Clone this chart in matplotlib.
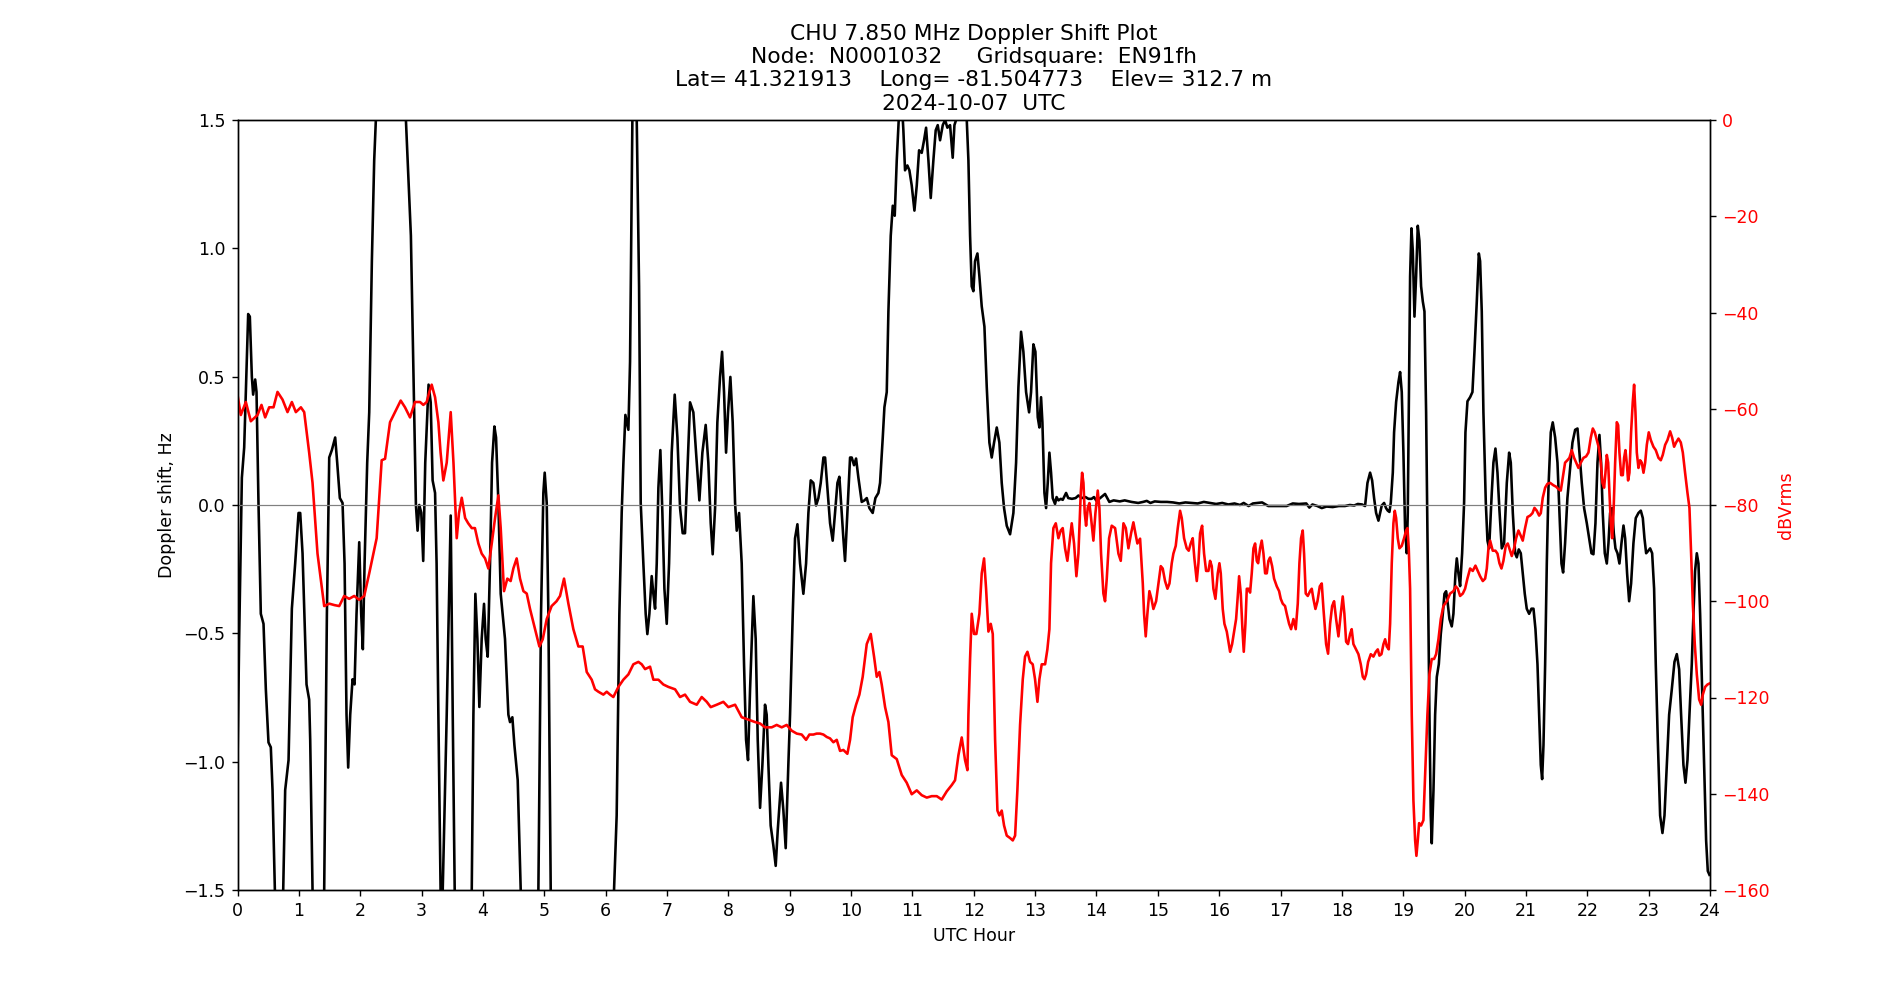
import matplotlib
matplotlib.use("Agg")
import matplotlib.pyplot as plt

title_lines = [
    "CHU 7.850 MHz Doppler Shift Plot",
    "Node:  N0001032     Gridsquare:  EN91fh",
    "Lat= 41.321913    Long= -81.504773    Elev= 312.7 m",
    "2024-10-07  UTC",
]
x_ticks = list(range(25))

# Doppler shift (black), hours / Hz
doppler_hours = [
    0.0, 0.027, 0.071, 0.109, 0.136, 0.174, 0.201, 0.234, 0.255, 0.288, 0.31, 0.342, 0.38, 0.424, 0.462,
    0.505, 0.543, 0.571, 0.609, 0.68, 0.745, 0.777, 0.832, 0.886, 0.94, 0.995, 1.022, 1.06, 1.125, 1.168,
    1.185, 1.223, 1.32, 1.413, 1.457, 1.495, 1.538, 1.592, 1.625, 1.668, 1.712, 1.745, 1.777, 1.804, 1.837,
    1.875, 1.908, 1.94, 1.984, 2.016, 2.043, 2.071, 2.114, 2.147, 2.19, 2.228, 2.255, 2.5, 2.745, 2.826,
    2.88, 2.908, 2.935, 2.962, 2.995, 3.027, 3.06, 3.114, 3.149, 3.18, 3.22, 3.245, 3.274, 3.31, 3.33,
    3.345, 3.41, 3.475, 3.508, 3.54, 3.68, 3.818, 3.845, 3.877, 3.91, 3.942, 3.98, 4.018, 4.045, 4.078,
    4.116, 4.149, 4.187, 4.214, 4.252, 4.29, 4.36, 4.415, 4.442, 4.48, 4.513, 4.567, 4.616, 4.75, 4.904,
    4.947, 4.985, 5.007, 5.04, 5.067, 5.105, 5.6, 6.137, 6.18, 6.224, 6.262, 6.29, 6.322, 6.371, 6.398,
    6.436, 6.47, 6.507, 6.545, 6.572, 6.615, 6.653, 6.68, 6.713, 6.751, 6.778, 6.806, 6.833, 6.86, 6.892,
    6.925, 6.958, 6.996, 7.034, 7.077, 7.126, 7.17, 7.213, 7.256, 7.294, 7.332, 7.376, 7.43, 7.474, 7.528,
    7.577, 7.631, 7.674, 7.713, 7.745, 7.784, 7.821, 7.865, 7.898, 7.93, 7.963, 7.995, 8.033, 8.071, 8.11,
    8.137, 8.175, 8.218, 8.256, 8.289, 8.321, 8.354, 8.408, 8.446, 8.479, 8.517, 8.555, 8.598, 8.625, 8.653,
    8.69, 8.734, 8.772, 8.805, 8.859, 8.897, 8.935, 8.978, 9.006, 9.05, 9.087, 9.126, 9.169, 9.223, 9.267,
    9.305, 9.343, 9.386, 9.43, 9.468, 9.506, 9.55, 9.577, 9.615, 9.658, 9.701, 9.739, 9.778, 9.81, 9.848,
    9.875, 9.902, 9.94, 9.984, 10.011, 10.049, 10.082, 10.12, 10.174, 10.218, 10.256, 10.299, 10.353, 10.397, 10.446,
    10.473, 10.517, 10.544, 10.582, 10.609, 10.647, 10.68, 10.712, 10.745, 10.777, 10.81, 10.853, 10.88, 10.918, 10.951,
    10.989, 11.033, 11.071, 11.109, 11.152, 11.19, 11.223, 11.261, 11.299, 11.342, 11.38, 11.413, 11.451, 11.495, 11.533,
    11.57, 11.614, 11.657, 11.685, 11.712, 11.8, 11.886, 11.913, 11.94, 11.967, 11.994, 12.021, 12.06, 12.092, 12.13,
    12.174, 12.212, 12.255, 12.293, 12.331, 12.375, 12.418, 12.456, 12.494, 12.538, 12.592, 12.646, 12.69, 12.728, 12.771,
    12.809, 12.853, 12.902, 12.934, 12.972, 13.005, 13.043, 13.07, 13.097, 13.119, 13.152, 13.179, 13.206, 13.233, 13.26,
    13.287, 13.325, 13.35, 13.38, 13.42, 13.45, 13.505, 13.54, 13.6, 13.66, 13.706, 13.76, 13.82, 13.87, 13.92,
    13.96, 14.0, 14.06, 14.14, 14.21, 14.28, 14.38, 14.46, 14.57, 14.68, 14.76, 14.82, 14.88, 14.95, 15.05,
    15.15, 15.25, 15.35, 15.45, 15.55, 15.65, 15.75, 15.85, 15.95, 16.05, 16.15, 16.25, 16.34, 16.4, 16.48,
    16.55, 16.7, 16.8, 16.9, 17.0, 17.1, 17.2, 17.3, 17.42, 17.47, 17.52, 17.6, 17.672, 17.75, 17.85,
    17.95, 18.05, 18.13, 18.2, 18.26, 18.33, 18.378, 18.417, 18.46, 18.493, 18.525, 18.558, 18.596, 18.623, 18.65,
    18.688, 18.72, 18.748, 18.775, 18.797, 18.83, 18.851, 18.884, 18.922, 18.949, 18.976, 19.003, 19.03, 19.058, 19.074,
    19.09, 19.112, 19.134, 19.156, 19.183, 19.21, 19.237, 19.264, 19.291, 19.319, 19.346, 19.373, 19.4, 19.427, 19.449,
    19.465, 19.493, 19.52, 19.547, 19.58, 19.612, 19.645, 19.672, 19.699, 19.726, 19.753, 19.791, 19.818, 19.851, 19.873,
    19.9, 19.927, 19.96, 19.992, 20.014, 20.047, 20.09, 20.128, 20.161, 20.199, 20.232, 20.253, 20.28, 20.307, 20.346,
    20.373, 20.4, 20.427, 20.443, 20.47, 20.503, 20.536, 20.568, 20.606, 20.644, 20.688, 20.726, 20.753, 20.786, 20.824,
    20.851, 20.883, 20.916, 20.949, 20.981, 21.013, 21.052, 21.09, 21.123, 21.155, 21.188, 21.215, 21.242, 21.264, 21.286,
    21.313, 21.34, 21.367, 21.405, 21.437, 21.476, 21.514, 21.546, 21.579, 21.606, 21.638, 21.676, 21.72, 21.758, 21.802,
    21.84, 21.872, 21.91, 21.948, 21.992, 22.03, 22.068, 22.1, 22.133, 22.166, 22.198, 22.225, 22.252, 22.285, 22.318,
    22.345, 22.372, 22.405, 22.432, 22.459, 22.492, 22.524, 22.557, 22.59, 22.617, 22.649, 22.682, 22.714, 22.752, 22.79,
    22.834, 22.872, 22.905, 22.932, 22.959, 22.992, 23.024, 23.057, 23.089, 23.116, 23.149, 23.187, 23.225, 23.258, 23.296,
    23.334, 23.377, 23.421, 23.459, 23.497, 23.529, 23.567, 23.6, 23.633, 23.665, 23.703, 23.73, 23.757, 23.785, 23.812,
    23.839, 23.872, 23.905, 23.937, 23.964, 23.991,
]
doppler_hz = [
    -1.01, -0.52, 0.106, 0.224, 0.44, 0.744, 0.734, 0.499, 0.43, 0.489, 0.44, 0.008, -0.424, -0.463, -0.719,
    -0.925, -0.944, -1.111, -1.5, -2.0, -1.5, -1.111, -0.994, -0.404, -0.228, -0.031, -0.031, -0.188, -0.699, -0.758,
    -0.915, -1.5, -2.0, -1.5, -0.424, 0.185, 0.214, 0.263, 0.165, 0.027, 0.008, -0.228, -0.817, -1.023, -0.817,
    -0.679, -0.699, -0.424, -0.145, -0.424, -0.562, -0.228, 0.165, 0.361, 0.95, 1.343, 1.5, 2.3, 1.5, 1.049,
    0.361, 0.0, -0.1, 0.0, -0.03, -0.218, 0.165, 0.469, 0.4, 0.096, 0.047, -0.228, -0.817, -1.5, -1.8,
    -1.5, -0.817, -0.041, -0.817, -1.5, -2.2, -1.5, -0.817, -0.346, -0.522, -0.787, -0.522, -0.385, -0.522, -0.591,
    -0.228, 0.165, 0.306, 0.263, 0.008, -0.346, -0.522, -0.817, -0.846, -0.827, -0.935, -1.072, -1.5, -2.2, -1.5,
    -0.424, 0.047, 0.126, 0.008, -0.424, -1.5, -2.5, -1.5, -1.21, -0.424, -0.03, 0.165, 0.351, 0.293, 0.558,
    1.5, 1.9, 1.5, 0.852, 0.008, -0.228, -0.424, -0.503, -0.424, -0.277, -0.346, -0.404, -0.228, 0.067, 0.214,
    -0.031, -0.326, -0.463, -0.228, 0.204, 0.43, 0.263, -0.012, -0.11, -0.11, 0.126, 0.4, 0.361, 0.204, 0.018,
    0.204, 0.312, 0.165, -0.071, -0.192, -0.012, 0.322, 0.499, 0.597, 0.439, 0.204, 0.361, 0.499, 0.322, 0.008,
    -0.1, -0.031, -0.228, -0.62, -0.915, -0.994, -0.719, -0.355, -0.522, -0.915, -1.18, -1.013, -0.778, -0.817, -1.013,
    -1.249, -1.327, -1.406, -1.268, -1.082, -1.189, -1.337, -1.013, -0.817, -0.424, -0.13, -0.075, -0.228, -0.346, -0.228,
    -0.031, 0.096, 0.086, -0.002, 0.027, 0.086, 0.185, 0.185, 0.067, -0.071, -0.139, -0.031, 0.086, 0.11, -0.031,
    -0.13, -0.218, -0.031, 0.185, 0.185, 0.155, 0.181, 0.106, 0.012, 0.018, 0.027, -0.012, -0.031, 0.027, 0.047,
    0.086, 0.263, 0.381, 0.44, 0.754, 1.049, 1.166, 1.127, 1.343, 1.5, 1.65, 1.46, 1.304, 1.323, 1.304,
    1.245, 1.147, 1.245, 1.382, 1.372, 1.421, 1.47, 1.343, 1.196, 1.343, 1.46, 1.48, 1.421, 1.48, 1.5,
    1.47, 1.48, 1.353, 1.48, 1.5, 1.7, 1.5, 1.343, 1.049, 0.852, 0.833, 0.95, 0.98, 0.891, 0.774,
    0.695, 0.459, 0.243, 0.185, 0.243, 0.302, 0.243, 0.086, -0.012, -0.081, -0.114, -0.031, 0.165, 0.459, 0.675,
    0.597, 0.44, 0.361, 0.44, 0.626, 0.597, 0.342, 0.302, 0.42, 0.322, 0.047, -0.012, 0.086, 0.204, 0.126,
    0.027, 0.004, 0.031, 0.018, 0.024, 0.02, 0.047, 0.027, 0.024, 0.027, 0.037, 0.027, 0.031, 0.024, 0.024,
    0.031, 0.016, 0.027, 0.043, 0.012, 0.018, 0.014, 0.018, 0.012, 0.008, 0.012, 0.016, 0.008, 0.014, 0.012,
    0.012, 0.01, 0.006, 0.01, 0.008, 0.006, 0.012, 0.008, 0.004, 0.008, 0.002, 0.006, 0.0, 0.008, -0.004,
    0.006, 0.01, -0.004, -0.004, -0.004, -0.004, 0.006, 0.004, 0.006, -0.01, 0.002, -0.004, -0.012, -0.006, -0.008,
    -0.004, -0.004, 0.0, -0.002, 0.004, 0.002, -0.004, 0.086, 0.126, 0.096, 0.027, -0.031, -0.061, -0.031, -0.002,
    0.008, -0.012, -0.022, -0.027, 0.008, 0.126, 0.283, 0.401, 0.479, 0.518, 0.44, 0.204, -0.09, -0.188, -0.031,
    0.361, 0.891, 1.078, 0.99, 0.734, 0.891, 1.088, 1.029, 0.852, 0.793, 0.754, 0.361, -0.228, -0.817, -1.21,
    -1.318, -1.111, -0.817, -0.67, -0.62, -0.503, -0.424, -0.346, -0.336, -0.385, -0.444, -0.473, -0.424, -0.267, -0.208,
    -0.267, -0.316, -0.188, 0.008, 0.283, 0.404, 0.42, 0.44, 0.597, 0.793, 0.98, 0.95, 0.754, 0.361, 0.008,
    -0.139, -0.169, -0.031, 0.047, 0.165, 0.22, 0.126, -0.02, -0.169, -0.149, 0.086, 0.204, 0.165, -0.031, -0.188,
    -0.204, -0.173, -0.188, -0.267, -0.346, -0.404, -0.424, -0.404, -0.404, -0.483, -0.62, -0.817, -1.013, -1.068, -0.935,
    -0.62, -0.228, 0.067, 0.283, 0.322, 0.263, 0.165, -0.031, -0.228, -0.263, -0.149, 0.027, 0.145, 0.243, 0.293,
    0.298, 0.204, 0.086, -0.012, -0.071, -0.13, -0.188, -0.192, -0.071, 0.165, 0.273, 0.165, -0.031, -0.188, -0.228,
    -0.149, -0.031, -0.012, -0.11, -0.169, -0.188, -0.228, -0.149, -0.08, -0.13, -0.267, -0.375, -0.306, -0.149, -0.051,
    -0.031, -0.022, -0.051, -0.13, -0.188, -0.179, -0.169, -0.188, -0.326, -0.62, -0.915, -1.21, -1.278, -1.21, -1.013,
    -0.817, -0.719, -0.611, -0.581, -0.64, -0.817, -1.013, -1.082, -0.994, -0.817, -0.62, -0.424, -0.257, -0.188, -0.228,
    -0.424, -0.719, -1.013, -1.308, -1.426, -1.441,
]

# Signal level (red), hours / dBVrms
level_hours = [
    0.0, 0.054, 0.136, 0.217, 0.326, 0.391, 0.451, 0.516, 0.587, 0.652, 0.734, 0.815, 0.886, 0.951, 1.033,
    1.087, 1.168, 1.223, 1.304, 1.413, 1.495, 1.58, 1.658, 1.739, 1.82, 1.902, 1.984, 2.065, 2.147, 2.268,
    2.35, 2.405, 2.486, 2.567, 2.66, 2.73, 2.812, 2.893, 2.975, 3.029, 3.084, 3.127, 3.165, 3.22, 3.274,
    3.31, 3.355, 3.41, 3.475, 3.52, 3.573, 3.61, 3.655, 3.71, 3.76, 3.818, 3.87, 3.926, 3.98, 4.035,
    4.089, 4.144, 4.198, 4.252, 4.29, 4.344, 4.398, 4.452, 4.496, 4.55, 4.605, 4.66, 4.714, 4.768, 4.85,
    4.92, 4.975, 5.04, 5.12, 5.2, 5.257, 5.322, 5.393, 5.474, 5.556, 5.626, 5.692, 5.773, 5.827, 5.882,
    5.963, 6.018, 6.072, 6.126, 6.208, 6.289, 6.371, 6.452, 6.534, 6.588, 6.643, 6.724, 6.778, 6.86, 6.941,
    7.023, 7.132, 7.213, 7.294, 7.376, 7.485, 7.566, 7.648, 7.713, 7.811, 7.919, 8.0, 8.11, 8.218, 8.327,
    8.435, 8.517, 8.598, 8.707, 8.788, 8.87, 8.951, 9.033, 9.115, 9.196, 9.267, 9.321, 9.386, 9.44, 9.495,
    9.55, 9.604, 9.658, 9.712, 9.767, 9.821, 9.875, 9.94, 9.984, 10.027, 10.082, 10.136, 10.19, 10.256, 10.321,
    10.375, 10.419, 10.462, 10.5, 10.555, 10.609, 10.663, 10.745, 10.826, 10.907, 10.989, 11.071, 11.152, 11.234, 11.315,
    11.397, 11.478, 11.56, 11.641, 11.695, 11.75, 11.804, 11.858, 11.897, 11.913, 11.94, 11.967, 12.005, 12.043, 12.092,
    12.13, 12.168, 12.201, 12.239, 12.277, 12.31, 12.348, 12.386, 12.418, 12.456, 12.494, 12.538, 12.592, 12.636, 12.674,
    12.711, 12.755, 12.799, 12.836, 12.875, 12.918, 12.961, 12.999, 13.038, 13.07, 13.108, 13.163, 13.2, 13.233, 13.26,
    13.298, 13.337, 13.38, 13.418, 13.45, 13.488, 13.526, 13.559, 13.597, 13.635, 13.673, 13.706, 13.744, 13.766, 13.788,
    13.809, 13.831, 13.858, 13.885, 13.912, 13.95, 13.983, 14.021, 14.048, 14.075, 14.113, 14.14, 14.168, 14.206, 14.249,
    14.304, 14.358, 14.396, 14.44, 14.478, 14.521, 14.564, 14.602, 14.635, 14.667, 14.711, 14.755, 14.776, 14.803, 14.83,
    14.863, 14.896, 14.928, 14.972, 15.01, 15.048, 15.08, 15.118, 15.157, 15.19, 15.227, 15.254, 15.292, 15.325, 15.363,
    15.39, 15.428, 15.471, 15.504, 15.536, 15.569, 15.596, 15.635, 15.662, 15.689, 15.722, 15.754, 15.787, 15.825, 15.852,
    15.879, 15.906, 15.939, 15.977, 16.004, 16.026, 16.058, 16.086, 16.124, 16.151, 16.178, 16.211, 16.243, 16.276, 16.303,
    16.325, 16.352, 16.379, 16.401, 16.428, 16.45, 16.477, 16.504, 16.531, 16.559, 16.586, 16.613, 16.635, 16.667, 16.694,
    16.722, 16.749, 16.776, 16.803, 16.83, 16.863, 16.895, 16.939, 16.977, 17.004, 17.036, 17.074, 17.101, 17.14, 17.172,
    17.21, 17.248, 17.281, 17.308, 17.335, 17.362, 17.384, 17.411, 17.444, 17.482, 17.509, 17.536, 17.569, 17.602, 17.64,
    17.672, 17.7, 17.743, 17.775, 17.808, 17.841, 17.873, 17.906, 17.944, 17.982, 18.014, 18.041, 18.069, 18.1, 18.134,
    18.16, 18.188, 18.232, 18.27, 18.308, 18.341, 18.368, 18.395, 18.428, 18.471, 18.514, 18.553, 18.585, 18.612, 18.645,
    18.678, 18.705, 18.732, 18.764, 18.786, 18.813, 18.84, 18.862, 18.884, 18.911, 18.938, 18.976, 19.014, 19.047, 19.069,
    19.09, 19.112, 19.139, 19.166, 19.194, 19.215, 19.237, 19.259, 19.291, 19.329, 19.357, 19.394, 19.427, 19.465, 19.503,
    19.536, 19.574, 19.612, 19.655, 19.71, 19.764, 19.818, 19.856, 19.889, 19.927, 19.971, 20.008, 20.046, 20.09, 20.133,
    20.177, 20.215, 20.253, 20.297, 20.335, 20.362, 20.389, 20.416, 20.459, 20.503, 20.536, 20.568, 20.601, 20.633, 20.671,
    20.704, 20.742, 20.769, 20.807, 20.84, 20.878, 20.916, 20.948, 20.986, 21.025, 21.068, 21.106, 21.139, 21.177, 21.215,
    21.242, 21.274, 21.313, 21.35, 21.394, 21.448, 21.492, 21.53, 21.568, 21.6, 21.638, 21.676, 21.709, 21.747, 21.785,
    21.818, 21.856, 21.894, 21.938, 21.981, 22.019, 22.057, 22.09, 22.122, 22.155, 22.188, 22.22, 22.247, 22.274, 22.296,
    22.318, 22.34, 22.361, 22.383, 22.405, 22.427, 22.454, 22.481, 22.503, 22.524, 22.552, 22.579, 22.6, 22.622, 22.643,
    22.665, 22.687, 22.714, 22.741, 22.763, 22.785, 22.807, 22.834, 22.861, 22.888, 22.916, 22.943, 22.97, 23.002, 23.035,
    23.078, 23.116, 23.16, 23.198, 23.23, 23.269, 23.307, 23.35, 23.383, 23.415, 23.448, 23.486, 23.524, 23.557, 23.594,
    23.633, 23.665, 23.692, 23.72, 23.752, 23.785, 23.823, 23.856, 23.883, 23.921, 23.959, 23.991,
]
level_db = [
    -57.1, -61.3, -58.6, -62.6, -61.3, -59.2, -61.8, -59.7, -59.7, -56.5, -58.1, -60.7, -58.6, -60.7, -59.7,
    -60.7, -69.1, -75.4, -90.1, -101.0, -100.5, -100.8, -101.0, -98.9, -99.5, -98.9, -99.7, -98.9, -94.2, -86.9,
    -70.7, -70.4, -62.8, -60.7, -58.3, -59.7, -61.8, -58.6, -58.6, -59.2, -58.6, -56.5, -55.0, -57.6, -62.8,
    -69.1, -74.9, -71.2, -60.7, -71.2, -86.9, -81.7, -78.5, -82.7, -83.8, -84.8, -84.8, -88.0, -90.1, -91.1,
    -93.2, -88.0, -82.7, -78.0, -84.8, -97.9, -95.3, -95.8, -93.2, -91.1, -95.3, -97.9, -98.4, -101.6, -105.8,
    -109.4, -107.9, -103.7, -101.0, -100.0, -98.9, -95.3, -100.5, -105.8, -109.4, -109.4, -114.7, -116.3, -118.3, -118.8,
    -119.4, -118.8, -119.4, -119.9, -117.8, -116.3, -115.2, -113.1, -112.6, -113.1, -114.1, -113.6, -116.3, -116.3, -117.3,
    -117.8, -118.3, -119.9, -119.4, -120.9, -121.5, -119.9, -120.9, -122.0, -121.5, -120.9, -122.0, -121.5, -124.1, -124.6,
    -125.1, -125.4, -126.2, -126.2, -125.7, -126.2, -125.7, -126.9, -127.5, -127.7, -128.8, -127.7, -127.7, -127.5, -127.5,
    -127.7, -128.2, -128.5, -129.3, -128.8, -131.1, -130.9, -131.7, -128.8, -124.1, -121.5, -119.4, -115.7, -108.9, -106.8,
    -111.5, -115.7, -114.7, -117.3, -122.0, -125.1, -132.0, -132.8, -136.1, -137.7, -140.1, -139.3, -140.3, -140.8, -140.5,
    -140.5, -141.2, -139.5, -138.2, -137.2, -132.0, -128.3, -133.0, -135.1, -123.6, -112.0, -102.6, -106.8, -106.8, -102.6,
    -94.2, -91.1, -97.4, -106.3, -104.7, -106.8, -128.8, -143.5, -144.5, -143.5, -146.6, -148.7, -149.2, -149.7, -148.7,
    -139.3, -125.7, -116.2, -111.5, -110.5, -112.6, -113.1, -116.2, -120.9, -116.2, -113.1, -113.1, -110.0, -105.8, -92.1,
    -84.8, -83.8, -86.9, -85.3, -84.8, -89.0, -91.6, -88.0, -83.8, -88.0, -94.8, -90.1, -77.5, -73.3, -75.4,
    -81.7, -84.3, -80.6, -79.6, -82.7, -87.4, -81.7, -77.0, -80.6, -90.1, -98.4, -100.0, -95.3, -86.9, -84.3,
    -84.8, -90.1, -91.6, -83.8, -84.8, -89.0, -85.9, -83.6, -85.9, -88.0, -87.0, -96.3, -102.6, -107.3, -102.6,
    -97.9, -99.5, -101.6, -100.0, -96.3, -92.7, -93.2, -95.8, -97.4, -96.3, -92.1, -90.1, -88.5, -84.8, -81.2,
    -82.7, -86.9, -89.0, -89.5, -88.0, -86.9, -91.1, -95.8, -92.1, -85.9, -84.3, -90.1, -93.7, -93.7, -91.6,
    -92.7, -97.4, -99.5, -94.2, -92.1, -94.2, -101.6, -104.7, -106.3, -108.4, -110.5, -108.9, -106.3, -103.7, -99.0,
    -94.8, -98.4, -105.8, -110.5, -104.7, -97.4, -97.4, -98.2, -94.2, -89.0, -88.0, -91.6, -92.1, -89.0, -87.4,
    -90.1, -94.2, -94.2, -91.6, -90.9, -92.7, -95.3, -96.9, -97.9, -99.5, -100.5, -101.0, -102.6, -104.7, -105.8,
    -103.7, -105.8, -100.5, -92.1, -86.9, -85.3, -90.1, -98.4, -98.9, -97.9, -97.4, -99.5, -101.6, -100.0, -96.9,
    -96.3, -101.6, -108.9, -110.9, -104.7, -101.0, -100.0, -103.7, -107.3, -102.6, -99.0, -102.6, -108.4, -108.9, -106.8,
    -105.8, -108.9, -110.0, -111.0, -113.1, -115.7, -116.2, -115.2, -112.6, -111.0, -111.5, -110.5, -110.0, -111.3, -111.0,
    -108.9, -107.9, -109.4, -110.0, -104.7, -92.1, -83.8, -81.2, -82.7, -86.9, -89.0, -88.5, -86.9, -85.3, -84.8,
    -89.0, -97.4, -123.6, -141.4, -149.7, -152.9, -149.7, -146.1, -146.6, -145.5, -136.1, -123.6, -115.2, -112.0, -112.0,
    -111.0, -107.9, -103.7, -101.0, -100.0, -98.4, -97.9, -96.9, -97.4, -98.9, -98.4, -97.4, -95.3, -93.2, -93.7,
    -92.6, -93.7, -94.8, -95.8, -95.3, -93.2, -89.0, -87.4, -89.5, -89.5, -90.1, -92.1, -93.2, -91.6, -88.5,
    -88.0, -89.5, -90.6, -89.0, -86.9, -85.3, -86.4, -87.4, -84.8, -82.5, -82.2, -81.7, -80.6, -81.2, -82.2,
    -81.7, -78.5, -76.4, -75.6, -75.4, -75.9, -76.2, -76.7, -77.0, -74.3, -71.2, -70.7, -70.2, -68.6, -70.2,
    -71.2, -72.3, -71.2, -70.2, -69.9, -69.1, -66.0, -64.1, -64.9, -66.5, -68.1, -71.2, -75.4, -76.4, -73.3,
    -69.6, -71.2, -77.5, -83.8, -86.9, -81.7, -71.2, -62.8, -63.4, -69.1, -73.8, -73.8, -70.2, -68.6, -71.2,
    -74.9, -73.3, -64.9, -58.6, -55.0, -60.7, -69.1, -72.3, -70.7, -71.2, -73.3, -71.2, -67.5, -64.9, -66.5,
    -67.9, -68.6, -70.2, -70.7, -69.6, -67.5, -66.5, -64.7, -66.0, -67.9, -67.0, -66.2, -67.0, -69.1, -73.3,
    -77.5, -80.6, -90.0, -100.5, -108.9, -115.2, -120.4, -121.5, -119.4, -117.8, -117.3, -117.1,
]

fig, ax1 = plt.subplots(figsize=(15.2, 8), dpi=125)
ax1.plot(doppler_hours, doppler_hz, color="black", linewidth=1.5)
ax1.axhline(0, color="gray", linewidth=0.7)
ax1.set_xlim(0, 24)
ax1.set_ylim(-1.5, 1.5)
ax1.set_xticks(x_ticks)
ax1.set_xlabel("UTC Hour")
ax1.set_ylabel("Doppler shift, Hz")
ax1.set_title("\n".join(title_lines), fontsize=12.5)

ax2 = ax1.twinx()
ax2.plot(level_hours, level_db, color="red", linewidth=1.5)
ax2.set_ylim(-160, 0)
ax2.set_ylabel("dBVrms", color="red")
ax2.tick_params(axis="y", labelcolor="red")

fig.savefig("out.png", dpi=125)
